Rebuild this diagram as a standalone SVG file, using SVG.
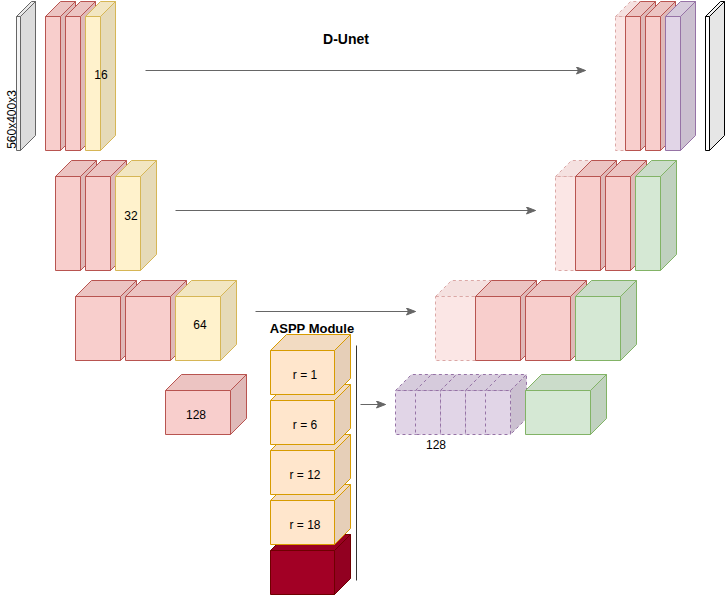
<svg xmlns="http://www.w3.org/2000/svg" width="726" height="595" viewBox="0 0 726 595">
<defs>
<style>
.cube rect,.cube path{stroke-width:1;stroke-linejoin:round}
.pk rect{fill:#f8cecc}.pk .t{fill:#ecc4c2}.pk .s{fill:#dfb9b8}.pk rect,.pk path{stroke:#b85450}
.ye rect{fill:#fff2cc}.ye .t{fill:#f2e6c2}.ye .s{fill:#e6dab8}.ye rect,.ye path{stroke:#d6b656}
.gr rect{fill:#d5e8d4}.gr .t{fill:#cbdcca}.gr .s{fill:#c0d1bf}.gr rect,.gr path{stroke:#82b366}
.pu rect{fill:#e1d5e7}.pu .t{fill:#d6cbdc}.pu .s{fill:#cbc0d0}.pu rect,.pu path{stroke:#9673a6}
.or rect{fill:#ffe6cc}.or .t{fill:#f2dbc2}.or .s{fill:#e6cfb8}.or rect,.or path{stroke:#d79b00}
.dr rect{fill:#a20025}.dr .t{fill:#9a0023}.dr .s{fill:#920021}.dr rect,.dr path{stroke:#6f0000}
.gy rect{fill:#f5f5f5}.gy .t{fill:#e9e9e9}.gy .s{fill:#dcdcdc}.gy rect,.gy path{stroke:#666666}
.wh rect{fill:#ffffff}.wh .t{fill:#f2f2f2}.wh .s{fill:#e6e6e6}.wh rect,.wh path{stroke:#000000}
.faint{opacity:0.5}
.faint rect,.faint path,.dash rect,.dash path{stroke-dasharray:3 3}
.lbl{font-family:"Liberation Sans",Arial,sans-serif;font-size:12px;fill:#000;text-anchor:middle}
.ttl{font-family:"Liberation Sans",Arial,sans-serif;font-weight:bold;fill:#000;text-anchor:middle}
.conn line{stroke:#666666;stroke-width:1;fill:none}
</style>
<marker id="arr" markerUnits="userSpaceOnUse" markerWidth="12" markerHeight="10" refX="10" refY="4" orient="auto">
<path d="M1,0.5 L10,4 L1,7.5 L3,4 Z" fill="#666666" stroke="#666666" stroke-width="1"/>
</marker>
</defs>
<g transform="translate(0.5,0.5)">
<!-- Row 1 left -->
<g id="input" class="cube gy"><rect x="16" y="16" width="4" height="134"/><path class="t" d="M16,16 l15,-15 h4 l-15,15z"/><path class="s" d="M20,16 l15,-15 v134 l-15,15z"/></g>
<g id="e1a" class="cube pk"><rect x="45" y="16" width="15" height="134"/><path class="t" d="M45,16 l15,-15 h15 l-15,15z"/><path class="s" d="M60,16 l15,-15 v134 l-15,15z"/></g>
<g id="e1b" class="cube pk"><rect x="65" y="16" width="15" height="134"/><path class="t" d="M65,16 l15,-15 h15 l-15,15z"/><path class="s" d="M80,16 l15,-15 v134 l-15,15z"/></g>
<g id="e1c" class="cube ye"><rect x="85" y="16" width="15" height="134"/><path class="t" d="M85,16 l15,-15 h15 l-15,15z"/><path class="s" d="M100,16 l15,-15 v134 l-15,15z"/></g>
<!-- Row 1 right -->
<g id="d1f" class="cube pk faint"><rect x="615" y="16" width="15" height="134"/><path class="t" d="M615,16 l15,-15 h15 l-15,15z"/><path class="s" d="M630,16 l15,-15 v134 l-15,15z"/></g>
<g id="d1a" class="cube pk"><rect x="625" y="16" width="15" height="134"/><path class="t" d="M625,16 l15,-15 h15 l-15,15z"/><path class="s" d="M640,16 l15,-15 v134 l-15,15z"/></g>
<g id="d1b" class="cube pk"><rect x="645" y="16" width="15" height="134"/><path class="t" d="M645,16 l15,-15 h15 l-15,15z"/><path class="s" d="M660,16 l15,-15 v134 l-15,15z"/></g>
<g id="d1c" class="cube pu"><rect x="665" y="16" width="15" height="134"/><path class="t" d="M665,16 l15,-15 h15 l-15,15z"/><path class="s" d="M680,16 l15,-15 v134 l-15,15z"/></g>
<g id="output" class="cube wh"><rect x="705" y="16" width="4" height="134"/><path class="t" d="M705,16 l15,-15 h4 l-15,15z"/><path class="s" d="M709,16 l15,-15 v134 l-15,15z"/></g>
<!-- Row 2 left -->
<g id="e2a" class="cube pk"><rect x="55" y="176" width="25" height="94"/><path class="t" d="M55,176 l16,-16 h25 l-16,16z"/><path class="s" d="M80,176 l16,-16 v94 l-16,16z"/></g>
<g id="e2b" class="cube pk"><rect x="85" y="176" width="25" height="94"/><path class="t" d="M85,176 l16,-16 h25 l-16,16z"/><path class="s" d="M110,176 l16,-16 v94 l-16,16z"/></g>
<g id="e2c" class="cube ye"><rect x="115" y="176" width="25" height="94"/><path class="t" d="M115,176 l16,-16 h25 l-16,16z"/><path class="s" d="M140,176 l16,-16 v94 l-16,16z"/></g>
<!-- Row 2 right -->
<g id="d2f" class="cube pk faint"><rect x="555" y="176" width="25" height="94"/><path class="t" d="M555,176 l16,-16 h25 l-16,16z"/><path class="s" d="M580,176 l16,-16 v94 l-16,16z"/></g>
<g id="d2a" class="cube pk"><rect x="575" y="176" width="25" height="94"/><path class="t" d="M575,176 l16,-16 h25 l-16,16z"/><path class="s" d="M600,176 l16,-16 v94 l-16,16z"/></g>
<g id="d2b" class="cube pk"><rect x="605" y="176" width="25" height="94"/><path class="t" d="M605,176 l16,-16 h25 l-16,16z"/><path class="s" d="M630,176 l16,-16 v94 l-16,16z"/></g>
<g id="d2c" class="cube gr"><rect x="635" y="176" width="25" height="94"/><path class="t" d="M635,176 l16,-16 h25 l-16,16z"/><path class="s" d="M660,176 l16,-16 v94 l-16,16z"/></g>
<!-- Row 3 left -->
<g id="e3a" class="cube pk"><rect x="75" y="296" width="45" height="64"/><path class="t" d="M75,296 l16,-16 h45 l-16,16z"/><path class="s" d="M120,296 l16,-16 v64 l-16,16z"/></g>
<g id="e3b" class="cube pk"><rect x="125" y="296" width="45" height="64"/><path class="t" d="M125,296 l16,-16 h45 l-16,16z"/><path class="s" d="M170,296 l16,-16 v64 l-16,16z"/></g>
<g id="e3c" class="cube ye"><rect x="175" y="296" width="45" height="64"/><path class="t" d="M175,296 l16,-16 h45 l-16,16z"/><path class="s" d="M220,296 l16,-16 v64 l-16,16z"/></g>
<!-- Row 3 right -->
<g id="d3f" class="cube pk faint"><rect x="435" y="296" width="45" height="64"/><path class="t" d="M435,296 l16,-16 h45 l-16,16z"/><path class="s" d="M480,296 l16,-16 v64 l-16,16z"/></g>
<g id="d3a" class="cube pk"><rect x="475" y="296" width="45" height="64"/><path class="t" d="M475,296 l16,-16 h45 l-16,16z"/><path class="s" d="M520,296 l16,-16 v64 l-16,16z"/></g>
<g id="d3b" class="cube pk"><rect x="525" y="296" width="45" height="64"/><path class="t" d="M525,296 l16,-16 h45 l-16,16z"/><path class="s" d="M570,296 l16,-16 v64 l-16,16z"/></g>
<g id="d3c" class="cube gr"><rect x="575" y="296" width="45" height="64"/><path class="t" d="M575,296 l16,-16 h45 l-16,16z"/><path class="s" d="M620,296 l16,-16 v64 l-16,16z"/></g>
<!-- Row 4 -->
<g id="bottleneck" class="cube pk"><rect x="165" y="390" width="65" height="44"/><path class="t" d="M165,390 l16,-16 h65 l-16,16z"/><path class="s" d="M230,390 l16,-16 v44 l-16,16z"/></g>
<g id="p1" class="cube pu dash"><rect x="395" y="390" width="25" height="44"/><path class="t" d="M395,390 l16,-16 h25 l-16,16z"/><path class="s" d="M420,390 l16,-16 v44 l-16,16z"/></g>
<g id="p2" class="cube pu dash"><rect x="415" y="390" width="25" height="44"/><path class="t" d="M415,390 l16,-16 h25 l-16,16z"/><path class="s" d="M440,390 l16,-16 v44 l-16,16z"/></g>
<g id="p3" class="cube pu dash"><rect x="440" y="390" width="25" height="44"/><path class="t" d="M440,390 l16,-16 h25 l-16,16z"/><path class="s" d="M465,390 l16,-16 v44 l-16,16z"/></g>
<g id="p4" class="cube pu dash"><rect x="465" y="390" width="25" height="44"/><path class="t" d="M465,390 l16,-16 h25 l-16,16z"/><path class="s" d="M490,390 l16,-16 v44 l-16,16z"/></g>
<g id="p5" class="cube pu dash"><rect x="485" y="390" width="25" height="44"/><path class="t" d="M485,390 l16,-16 h25 l-16,16z"/><path class="s" d="M510,390 l16,-16 v44 l-16,16z"/></g>
<g id="d4" class="cube gr"><rect x="525" y="390" width="65" height="44"/><path class="t" d="M525,390 l16,-16 h65 l-16,16z"/><path class="s" d="M590,390 l16,-16 v44 l-16,16z"/></g>
<!-- ASPP -->
<g id="aspp_out" class="cube dr"><rect x="270" y="550" width="64" height="44"/><path class="t" d="M270,550 l16,-16 h64 l-16,16z"/><path class="s" d="M334,550 l16,-16 v44 l-16,16z"/></g>
<g id="r18" class="cube or"><rect x="270" y="500" width="64" height="44"/><path class="t" d="M270,500 l16,-16 h64 l-16,16z"/><path class="s" d="M334,500 l16,-16 v44 l-16,16z"/></g>
<g id="r12" class="cube or"><rect x="270" y="450" width="64" height="44"/><path class="t" d="M270,450 l16,-16 h64 l-16,16z"/><path class="s" d="M334,450 l16,-16 v44 l-16,16z"/></g>
<g id="r6" class="cube or"><rect x="270" y="400" width="64" height="44"/><path class="t" d="M270,400 l16,-16 h64 l-16,16z"/><path class="s" d="M334,400 l16,-16 v44 l-16,16z"/></g>
<g id="r1" class="cube or"><rect x="270" y="350" width="64" height="44"/><path class="t" d="M270,350 l16,-16 h64 l-16,16z"/><path class="s" d="M334,350 l16,-16 v44 l-16,16z"/></g>
<!-- Connectors -->
<g id="connectors" class="conn">
<line x1="145" y1="70" x2="585" y2="70" marker-end="url(#arr)"/>
<line x1="175" y1="210" x2="535" y2="210" marker-end="url(#arr)"/>
<line x1="255" y1="311" x2="415" y2="311" marker-end="url(#arr)"/>
<line x1="360" y1="404" x2="385" y2="404" marker-end="url(#arr)"/>
<line x1="356" y1="345" x2="356" y2="580" style="stroke:#333333"/>
</g>
</g>
<!-- Labels -->
<g id="labels">
<text class="ttl" x="346" y="44" style="font-size:14px">D-Unet</text>
<text class="ttl" x="312" y="333" style="font-size:13px">ASPP Module</text>
<text class="lbl" transform="translate(15.5,119.5) rotate(-90)" x="0" y="0">560x400x3</text>
<text class="lbl" x="101" y="79">16</text>
<text class="lbl" x="131" y="220">32</text>
<text class="lbl" x="200" y="329">64</text>
<text class="lbl" x="196" y="419">128</text>
<text class="lbl" x="305" y="379">r = 1</text>
<text class="lbl" x="305" y="429">r = 6</text>
<text class="lbl" x="305" y="479">r = 12</text>
<text class="lbl" x="305" y="529">r = 18</text>
<text class="lbl" x="436" y="449">128</text>
</g>
</svg>
